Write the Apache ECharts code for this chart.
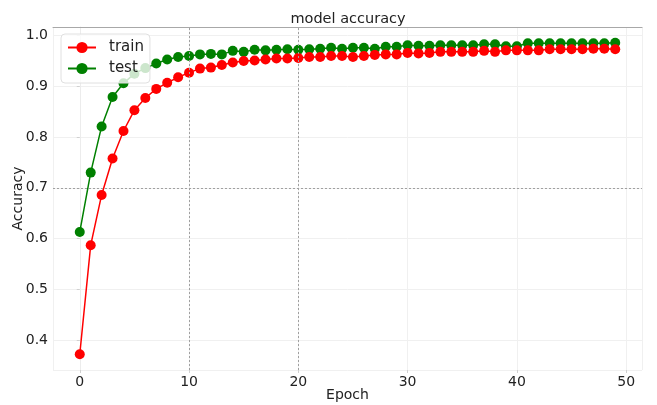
<!DOCTYPE html>
<html>
<head>
<meta charset="utf-8">
<script src="https://cdn.jsdelivr.net/npm/echarts@6/dist/echarts.min.js"></script>
<style>html,body{margin:0;padding:0;background:#fff}#c{width:657px;height:405px}</style>
</head>
<body>
<div id="c"></div>
<script>
var epochs = [0,1,2,3,4,5,6,7,8,9,10,11,12,13,14,15,16,17,18,19,20,21,22,23,24,25,26,27,28,29,30,31,32,33,34,35,36,37,38,39,40,41,42,43,44,45,46,47,48,49];
var trainAcc = [0.372,0.587,0.686,0.758,0.812,0.853,0.877,0.895,0.907,0.918,0.927,0.935,0.937,0.942,0.947,0.950,0.951,0.953,0.955,0.955,0.956,0.958,0.958,0.960,0.960,0.958,0.960,0.962,0.963,0.963,0.966,0.965,0.966,0.968,0.968,0.968,0.968,0.970,0.968,0.971,0.971,0.971,0.971,0.973,0.973,0.973,0.973,0.974,0.974,0.973];
var testAcc = [0.613,0.730,0.821,0.879,0.906,0.925,0.936,0.945,0.953,0.958,0.960,0.963,0.964,0.963,0.970,0.968,0.972,0.971,0.972,0.973,0.972,0.973,0.974,0.976,0.974,0.976,0.976,0.974,0.978,0.978,0.981,0.980,0.980,0.981,0.981,0.981,0.981,0.983,0.983,0.979,0.979,0.985,0.985,0.985,0.985,0.985,0.985,0.985,0.985,0.986];
var guideX = [10, 20];
var guideY = [0.7];
var seriesNames = ['train', 'test'];
var titleText = 'model accuracy';
var xName = 'Epoch';
var yName = 'Accuracy';

function pairs(xs, ys) { return xs.map(function (x, i) { return [x, ys[i]]; }); }

var FONT = 'DejaVu Sans';
var chart = echarts.init(document.getElementById('c'), null, {renderer: 'canvas'});
var xMin = -2.45, xMax = 51.45, yMin = 0.341, yMax = 1.017;

var guides = guideX.map(function (v) { return {xAxis: v}; }).concat(guideY.map(function (v) { return {yAxis: v}; }));

chart.setOption({
  animation: false,
  backgroundColor: '#fff',
  textStyle: {fontFamily: FONT},
  title: {
    text: titleText, left: 343, textAlign: 'center', top: 7,
    textStyle: {fontFamily: FONT, fontSize: 14.5, fontWeight: 'normal', color: '#222'}
  },
  legend: {
    data: seriesNames, orient: 'vertical', left: 61, top: 34,
    backgroundColor: 'rgba(255,255,255,0.8)', borderColor: '#e0e0e0', borderWidth: 1, borderRadius: 4,
    padding: [6, 6, 7, 6], itemWidth: 28, itemHeight: 14, itemGap: 6,
    textStyle: {fontFamily: FONT, fontSize: 15, color: '#222', padding: [0, 0, 0, 8]}
  },
  grid: {left: 53, right: 15, top: 27, bottom: 35, containLabel: false, outerBoundsMode: 'none'},
  xAxis: [{
    type: 'value', min: xMin, max: xMax, splitNumber: 5,
    name: xName, nameLocation: 'middle', nameGap: 18, nameMoveOverlap: false,
    nameTextStyle: {fontFamily: FONT, fontSize: 14, color: '#222'},
    axisLine: {show: false},
    axisTick: {show: true, length: 3, lineStyle: {color: '#d0d0d0'}},
    axisLabel: {showMinLabel: false, showMaxLabel: false, fontFamily: FONT, fontSize: 14, color: '#222', margin: 5},
    splitLine: {show: true, lineStyle: {color: '#f0f0f0', width: 1}}
  }, {
    type: 'value', position: 'top', min: xMin, max: xMax,
    axisLine: {show: true, lineStyle: {color: '#a8a8a8', width: 1}},
    axisTick: {show: false}, axisLabel: {show: false}, splitLine: {show: false}
  }],
  yAxis: [{
    type: 'value', min: yMin, max: yMax, splitNumber: 6,
    name: yName, nameLocation: 'middle', nameGap: 28, nameMoveOverlap: false,
    nameTextStyle: {fontFamily: FONT, fontSize: 14, color: '#222'},
    axisLine: {show: false},
    axisTick: {show: true, length: 3, lineStyle: {color: '#d0d0d0'}},
    axisLabel: {showMinLabel: false, showMaxLabel: false, fontFamily: FONT, fontSize: 14, color: '#222', margin: 5,
      formatter: function (v) { return v.toFixed(1); }},
    splitLine: {show: true, lineStyle: {color: '#f0f0f0', width: 1}}
  }, {
    type: 'value', position: 'right', min: yMin, max: yMax,
    axisLine: {show: true, lineStyle: {color: '#ececec', width: 1}},
    axisTick: {show: false}, axisLabel: {show: false}, splitLine: {show: false}
  }],
  series: [{
    name: 'guides', type: 'line', data: [], z: 1, silent: true,
    markLine: {
      silent: true, symbol: ['none', 'none'], label: {show: false},
      lineStyle: {type: [2, 2], color: '#a0a0a0', width: 1},
      data: guides
    }
  }, {
    name: seriesNames[0], type: 'line', data: pairs(epochs, trainAcc), z: 3,
    symbol: 'circle', symbolSize: 10, showAllSymbol: true,
    itemStyle: {color: '#ff0000'}, lineStyle: {color: '#ff0000', width: 1.5}
  }, {
    name: seriesNames[1], type: 'line', data: pairs(epochs, testAcc), z: 2,
    symbol: 'circle', symbolSize: 10, showAllSymbol: true,
    itemStyle: {color: '#008000'}, lineStyle: {color: '#008000', width: 1.5}
  }]
});
</script>
</body>
</html>
